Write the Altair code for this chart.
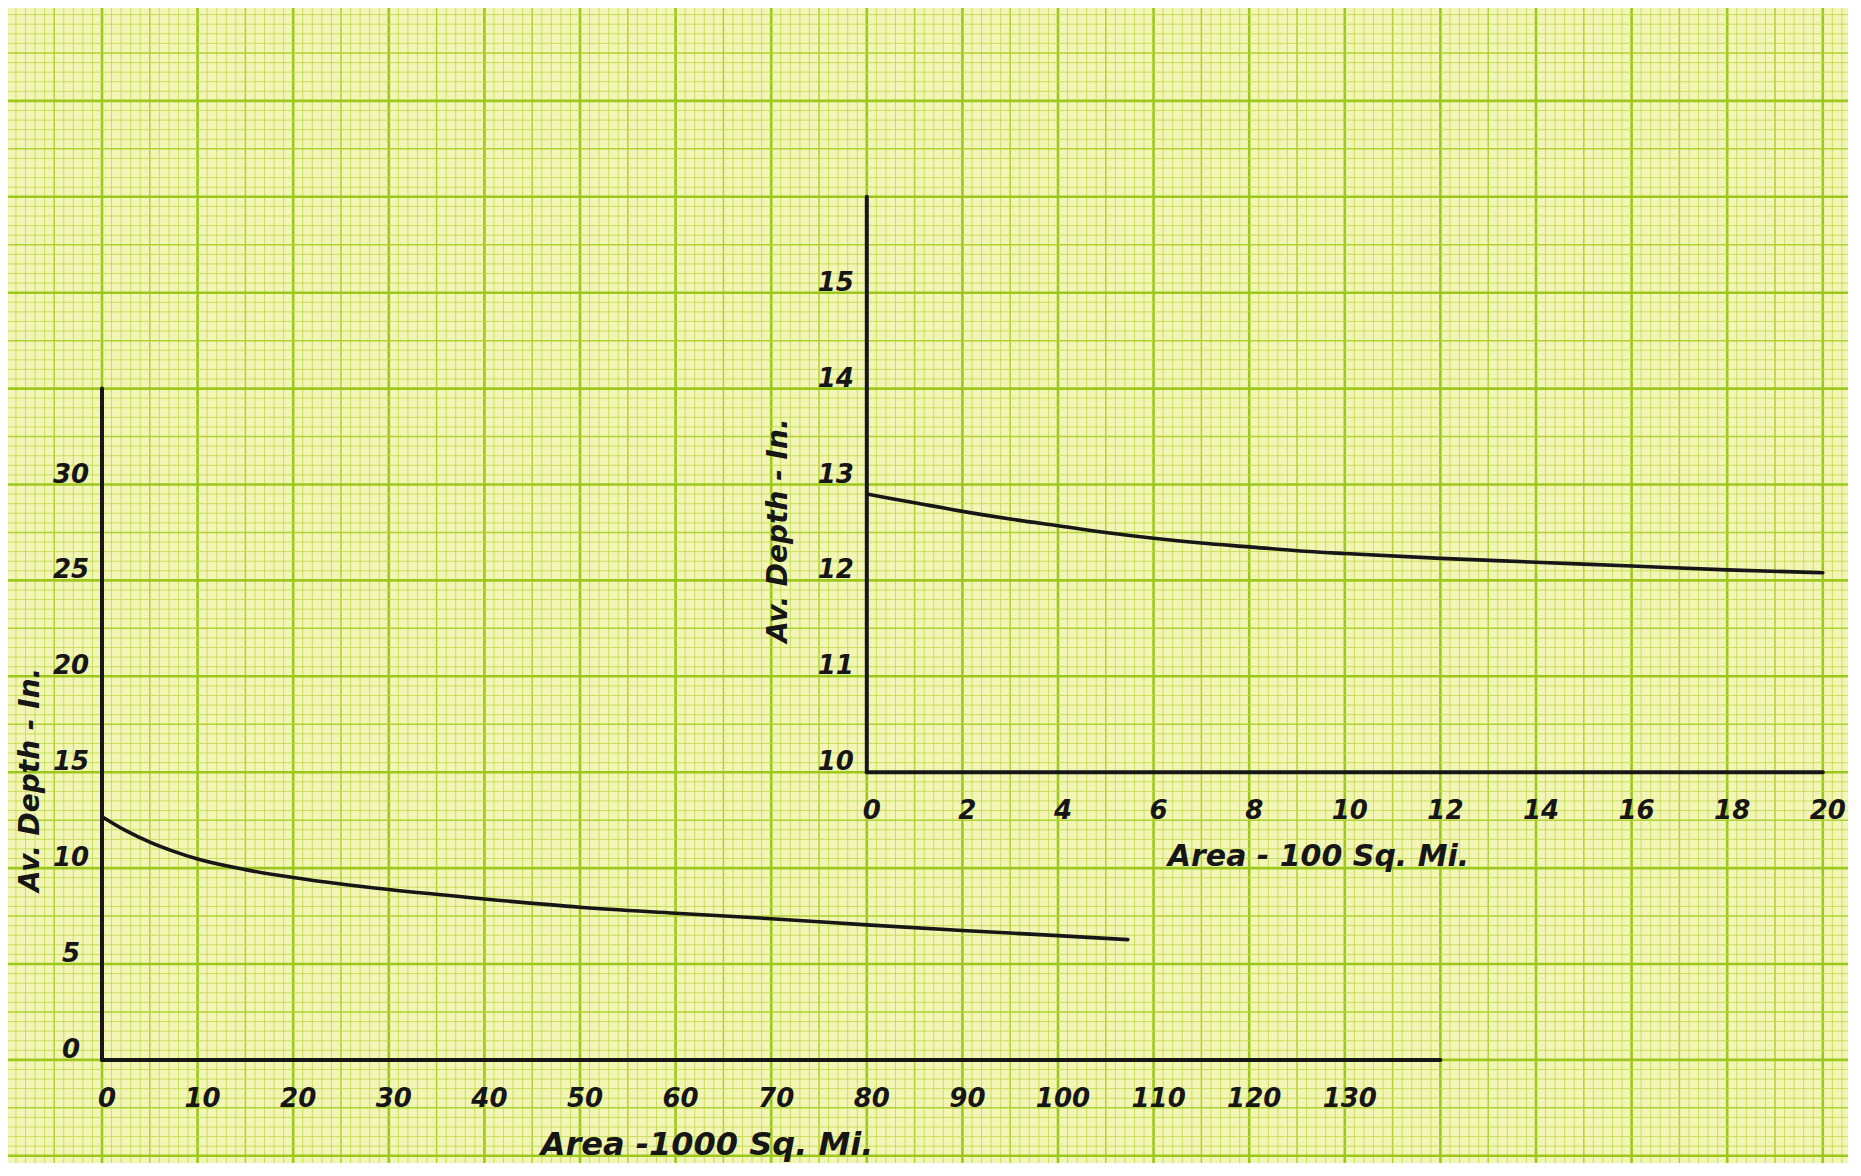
import altair as alt
import pandas as pd
import numpy as np

# ---------------- data ----------------
left_area = [0, 2.5, 5, 7.5, 10, 15, 20, 25, 30, 40, 50, 60, 70, 80, 90, 100, 107.3]
left_depth = [12.68, 11.95, 11.35, 10.87, 10.47, 9.92, 9.51, 9.17, 8.88, 8.39, 7.96,
              7.65, 7.36, 7.04, 6.75, 6.48, 6.27]

right_area = [0, 1, 2, 3, 4, 5, 6, 7, 8, 9, 10, 12, 14, 16, 18, 20]
right_depth = [12.90, 12.81, 12.72, 12.64, 12.57, 12.50, 12.44, 12.39, 12.35, 12.31,
               12.28, 12.23, 12.19, 12.15, 12.11, 12.08]

left_x_ticks = [0, 10, 20, 30, 40, 50, 60, 70, 80, 90, 100, 110, 120, 130]
left_y_ticks = [0, 5, 10, 15, 20, 25, 30]
right_x_ticks = [0, 2, 4, 6, 8, 10, 12, 14, 16, 18, 20]
right_y_ticks = [10, 11, 12, 13, 14, 15]

left_x_extent = [0, 140]
left_y_extent = [0, 35]
right_x_extent = [0, 20]
right_y_extent = [10, 16]

left_x_title = "Area -1000 Sq. Mi."
left_y_title = "Av. Depth - In."
right_x_title = "Area - 100 Sq. Mi."
right_y_title = "Av. Depth - In."

# ---------------- layout (page pixels) ----------------
W, H = 1840, 1155          # plot area
OX, OY = 8, 8              # page margin
GX0, GY0 = 6.4, 5.0        # graph-paper origin on the page
SX, SY = 95.6, 95.9        # size of one major square

INK = "#161616"
PAPER = "#f3f5b6"
FONT = "DejaVu Sans"


def x_domain(origin_sq, units_per_sq, v0=0.0):
    px0 = GX0 + origin_sq * SX
    f = lambda p: v0 + (p - px0) / SX * units_per_sq
    return [f(OX), f(OX + W)]


def y_domain(origin_sq, units_per_sq, v0=0.0):
    py0 = GY0 + origin_sq * SY
    f = lambda p: v0 + (py0 - p) / SY * units_per_sq
    return [f(OY + H), f(OY)]


LX = alt.Scale(domain=x_domain(1, 10), nice=False, zero=False)
LY = alt.Scale(domain=y_domain(11, 5), nice=False, zero=False)
RX = alt.Scale(domain=x_domain(9, 2), nice=False, zero=False)
RY = alt.Scale(domain=y_domain(8, 1, 10), nice=False, zero=False)

# paper grid scales (in major squares)
PX = alt.Scale(domain=[(OX - GX0) / SX, (OX + W - GX0) / SX], nice=False, zero=False)
PY = alt.Scale(domain=[(OY + H - GY0) / SY, (OY - GY0) / SY], nice=False, zero=False)

nvx = int(np.floor((OX + W - GX0) / SX * 10))
nvy = int(np.floor((OY + H - GY0) / SY * 10))
vx = np.arange(0, nvx + 1)
vy = np.arange(0, nvy + 1)


def grid_layers(idx, channel, scale):
    out = []
    kinds = [
        (idx[(idx % 5) != 0], "#c2db52", 0.9),
        (idx[(idx % 10) == 5], "#afd232", 1.5),
        (idx[(idx % 10) == 0], "#9cc71c", 2.6),
    ]
    for sel, col, sw in kinds:
        df = pd.DataFrame({"p": sel / 10.0})
        enc = {channel: alt.X("p:Q", scale=scale, axis=None) if channel == "x"
               else alt.Y("p:Q", scale=scale, axis=None)}
        out.append(alt.Chart(df).mark_rule(color=col, strokeWidth=sw, clip=True).encode(**enc))
    return out


layers = []
layers += grid_layers(vx, "x", PX)
layers += grid_layers(vy, "y", PY)


def panel(area, depth, xt, yt, xe, ye, xtitle, ytitle, SXs, SYs,
          xtitle_at, xtitle_size, ytitle_at, ytitle_dy):
    ls = []
    # axis lines
    ax = pd.DataFrame({"a0": [xe[0]], "a1": [xe[1]], "d": [ye[0]]})
    ls.append(alt.Chart(ax).mark_rule(color=INK, strokeWidth=4, strokeCap="round").encode(
        x=alt.X("a0:Q", scale=SXs, axis=None), x2="a1:Q",
        y=alt.Y("d:Q", scale=SYs, axis=None)))
    ay = pd.DataFrame({"a": [xe[0]], "d0": [ye[0]], "d1": [ye[1]]})
    ls.append(alt.Chart(ay).mark_rule(color=INK, strokeWidth=4, strokeCap="round").encode(
        x=alt.X("a:Q", scale=SXs, axis=None),
        y=alt.Y("d0:Q", scale=SYs, axis=None), y2="d1:Q"))
    # curve
    cdf = pd.DataFrame({"area": area, "depth": depth})
    ls.append(alt.Chart(cdf).mark_line(color=INK, strokeWidth=3.6, interpolate="monotone",
                                       strokeCap="round").encode(
        x=alt.X("area:Q", scale=SXs, axis=None),
        y=alt.Y("depth:Q", scale=SYs, axis=None)))
    txt = dict(font=FONT, fontStyle="italic", fontWeight="bold", color=INK)
    # x tick labels
    xdf = pd.DataFrame({"v": xt, "base": ye[0], "lab": [str(v) for v in xt]})
    ls.append(alt.Chart(xdf).mark_text(fontSize=26, dy=39, dx=5, **txt).encode(
        x=alt.X("v:Q", scale=SXs, axis=None),
        y=alt.Y("base:Q", scale=SYs, axis=None), text="lab:N"))
    # y tick labels
    ydf = pd.DataFrame({"v": yt, "base": xe[0], "lab": [str(v) for v in yt]})
    ls.append(alt.Chart(ydf).mark_text(fontSize=26, dx=-31, dy=-10, **txt).encode(
        x=alt.X("base:Q", scale=SXs, axis=None),
        y=alt.Y("v:Q", scale=SYs, axis=None), text="lab:N"))
    # titles
    tdf = pd.DataFrame({"x": [xtitle_at], "y": [ye[0]], "t": [xtitle]})
    ls.append(alt.Chart(tdf).mark_text(fontSize=xtitle_size, dy=85, **txt).encode(
        x=alt.X("x:Q", scale=SXs, axis=None),
        y=alt.Y("y:Q", scale=SYs, axis=None), text="t:N"))
    tdf2 = pd.DataFrame({"x": [xe[0]], "y": [ytitle_at], "t": [ytitle]})
    ls.append(alt.Chart(tdf2).mark_text(fontSize=28, angle=270, dy=ytitle_dy, **txt).encode(
        x=alt.X("x:Q", scale=SXs, axis=None),
        y=alt.Y("y:Q", scale=SYs, axis=None), text="t:N"))
    return ls


layers += panel(left_area, left_depth, left_x_ticks, left_y_ticks, left_x_extent, left_y_extent,
                left_x_title, left_y_title, LX, LY, 63.3, 32, 14.6, -71)
layers += panel(right_area, right_depth, right_x_ticks, right_y_ticks, right_x_extent, right_y_extent,
                right_x_title, right_y_title, RX, RY, 9.45, 30, 12.52, -88)

chart = alt.layer(*layers).resolve_scale(x="independent", y="independent").properties(
    width=W, height=H, padding=0, background=PAPER
).configure_view(stroke=None)

chart.save("out.html", embed_options={"renderer": "svg", "actions": False})
